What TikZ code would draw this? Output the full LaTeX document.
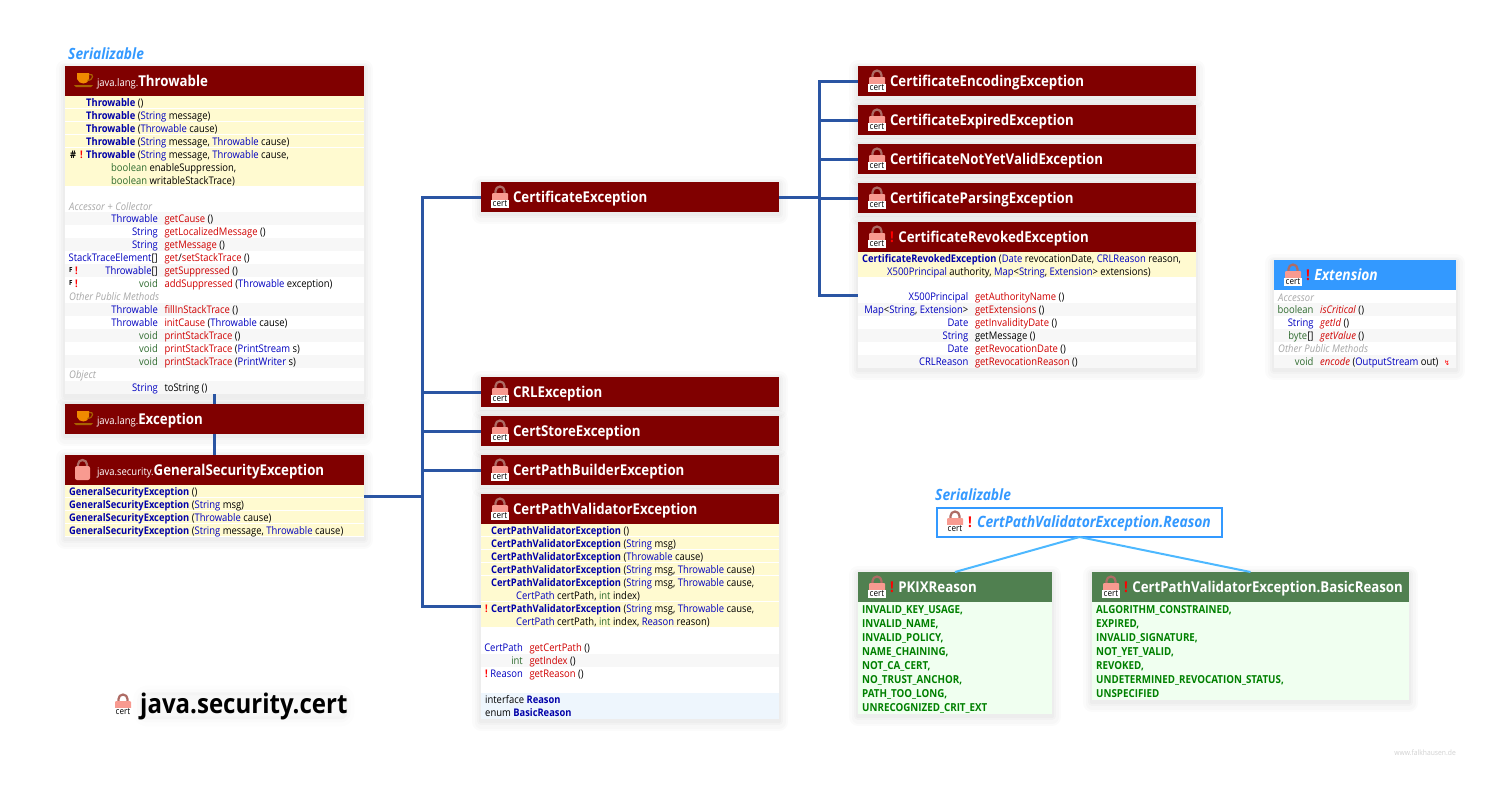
\documentclass[tikz,border=0pt]{standalone}
\usepackage{fontspec}
\setmainfont{Open Sans}[FakeStretch=0.90,BoldFeatures={FakeStretch=0.89},BoldItalicFeatures={FakeStretch=0.89}]
\newfontfamily\symfont{DejaVu Sans}
\usetikzlibrary{positioning}
\definecolor{darkred}{HTML}{800000}
\definecolor{leafgreen}{HTML}{508050}
\definecolor{enumbg}{HTML}{F0FFF0}
\definecolor{ifaceblue}{HTML}{3399FF}
\definecolor{skyblue}{HTML}{4DB8FF}
\definecolor{busblue}{HTML}{2A55A3}
\definecolor{yellowband}{HTML}{FFFAD0}
\definecolor{greyband}{HTML}{F7F7F7}
\definecolor{nestband}{HTML}{EEF6FD}
\definecolor{typeblue}{HTML}{0000C0}
\definecolor{consblue}{HTML}{0000A8}
\definecolor{methred}{HTML}{D00000}
\definecolor{kwgreen}{HTML}{2F6B2F}
\definecolor{enumgreen}{HTML}{008000}
\definecolor{noteGrey}{HTML}{A8A8A8}
\definecolor{lockpink}{HTML}{F89A90}
\definecolor{cuporange}{HTML}{F08A00}
\newcommand{\typ}[1]{\textcolor{typeblue}{#1}}
\newcommand{\kwd}[1]{\textcolor{kwgreen}{#1}}
\newcommand{\mth}[1]{\textcolor{methred}{#1}}
\newcommand{\cons}[1]{\textcolor{consblue}{\textbf{#1}}}
\newcommand{\warn}{\textcolor{red}{\textbf{!}}}
\newcommand{\pkg}[1]{{\fontsize{10.5}{13}\selectfont #1}}
\tikzset{
  softshadow/.style={
    preaction={draw=black,draw opacity=.014,line width=18pt,line join=round,transform canvas={yshift=-3pt}},
    preaction={draw=black,draw opacity=.016,line width=13pt,line join=round,transform canvas={yshift=-3pt}},
    preaction={draw=black,draw opacity=.02,line width=8pt,line join=round,transform canvas={yshift=-2pt}},
    preaction={draw=black,draw opacity=.02,line width=4pt,line join=round,transform canvas={yshift=-2pt}}},
  titleglow/.style={
    rounded corners=7pt,
    preaction={draw=black,fill=black,draw opacity=.008,fill opacity=.012,line width=14pt,line join=round},
    preaction={draw=black,fill=black,draw opacity=.01,fill opacity=.012,line width=6pt,line join=round}},
  classbox/.style={softshadow,anchor=north west,fill=white,inner sep=0pt,outer sep=0pt},
  headbox/.style={anchor=north west,inner xsep=0pt,inner ysep=0pt,outer sep=0pt,minimum height=30pt,
    align=left,text=white,text height=11pt,text depth=1pt,font=\fontsize{14.9}{17}\selectfont},
  darkhead/.style={headbox,fill=darkred},
  greenhead/.style={headbox,fill=leafgreen},
  bluehead/.style={headbox,fill=ifaceblue},
  rowtext/.style={anchor=base west,inner sep=0pt,font=\fontsize{10.5}{13}\selectfont},
  rowright/.style={rowtext,anchor=base east},
  bus/.style={draw=busblue,line width=3pt},
  skyline/.style={draw=skyblue,line width=2pt},
  lockicon/.pic={
    \draw[line width=2.2pt,lockpink!70!black] (4,8) -- (4,4.5) arc[start angle=180,end angle=0,radius=4.5pt] -- (13,8);
    \fill[lockpink,rounded corners=2pt] (1,6) rectangle (16,20);},
  certlock/.pic={
    \draw[line width=2.2pt,lockpink!70!black] (4.5,7) -- (4.5,4) arc[start angle=180,end angle=0,radius=4.5pt] -- (13.5,7);
    \fill[lockpink,rounded corners=1pt] (1,6) rectangle (17,16);
    \node (certlabel) [fill=white,inner sep=0pt,minimum width=18pt,minimum height=7.5pt,font=\fontsize{9}{8}\selectfont] at (9,17) {cert};},
  cupicon/.pic={
    \fill[cuporange] (3,0) -- (15,0) -- (15,6) .. controls (14,12) and (5,12) .. (3,6) -- cycle;
    \draw[cuporange!70!black,line width=1.2pt] (15,1.5) .. controls (20,0) and (20,7) .. (13.5,7.5);
    \fill[cuporange!70!black] (0,12) -- (19,12) -- (17,14) -- (2,14) -- cycle;}
}
\newcounter{rowno}
\newcommand{\txt}[3]{\stepcounter{rowno}\node (row\arabic{rowno}) [rowtext] at (#1,#2+10) {#3};}
\newcommand{\rtxt}[3]{\stepcounter{rowno}\node (row\arabic{rowno}) [rowright] at (#1,#2+10) {#3};}
\newcommand{\member}[4]{\rtxt{#1}{#2}{#3}\txt{#1+6.3}{#2}{#4}}
\newcommand{\gband}[3]{\fill[greyband] (#1,#3) rectangle (#2,#3+13);}
\newcommand{\yband}[4]{\fill[yellowband] (#1,#3) rectangle (#2,#3+#4-1);}
\newcommand{\grouplabel}[3]{\txt{#1}{#2}{\textcolor{noteGrey}{\textit{#3}}}}
\newcommand{\enumrow}[3]{\txt{#1}{#2}{\fontsize{11}{13}\selectfont\textcolor{enumgreen}{\textbf{#3}}}}
\begin{document}
\begin{tikzpicture}[x=1pt,y=-1pt]
\useasboundingbox (0,0) rectangle (1512,798);
% left column
\node (serialthrow) [rowtext,text=ifaceblue,font=\fontsize{15.5}{17}\selectfont\bfseries\itshape] at (68,59) {Serializable};
\node (throwable) [classbox,minimum width=299pt,minimum height=328pt] at (65,66) {};
\node (throwablehead) [darkhead,text width=299pt] at (65,66) {\hspace*{32pt}\pkg{java.lang.}\textbf{Throwable}};
\pic at (74,73) {cupicon};
\foreach \t in {96,109,122,135} {\yband{65}{364}{\t}{13}}
\yband{65}{364}{148}{39}
\foreach \t in {212,238,264,303,329,355,381} {\gband{65}{364}{\t}}
\txt{86}{96}{\cons{Throwable} ()}
\txt{86}{109}{\cons{Throwable} (\typ{String} message)}
\txt{86}{122}{\cons{Throwable} (\typ{Throwable} cause)}
\txt{86}{135}{\cons{Throwable} (\typ{String} message, \typ{Throwable} cause)}
\txt{70}{148}{\textbf{\#}}
\txt{80}{148}{\warn}
\txt{86}{148}{\cons{Throwable} (\typ{String} message, \typ{Throwable} cause,}
\txt{111}{161}{\kwd{boolean} enableSuppression,}
\txt{111}{174}{\kwd{boolean} writableStackTrace)}
\grouplabel{69}{200}{Accessor + Collector}
\member{158}{212}{\typ{Throwable}}{\mth{getCause} ()}
\member{158}{225}{\typ{String}}{\mth{getLocalizedMessage} ()}
\member{158}{238}{\typ{String}}{\mth{getMessage} ()}
\member{158}{251}{\typ{StackTraceElement}[]}{\mth{get}/\mth{setStackTrace} ()}
\txt{69}{262}{\fontsize{7}{8}\selectfont\textbf{F}}
\txt{75}{264}{\warn}
\member{158}{264}{\typ{Throwable}[]}{\mth{getSuppressed} ()}
\txt{69}{275}{\fontsize{7}{8}\selectfont\textbf{F}}
\txt{75}{277}{\warn}
\member{158}{277}{\kwd{void}}{\mth{addSuppressed} (\typ{Throwable} exception)}
\grouplabel{69}{290}{Other Public Methods}
\member{158}{303}{\typ{Throwable}}{\mth{fillInStackTrace} ()}
\member{158}{316}{\typ{Throwable}}{\mth{initCause} (\typ{Throwable} cause)}
\member{158}{329}{\kwd{void}}{\mth{printStackTrace} ()}
\member{158}{342}{\kwd{void}}{\mth{printStackTrace} (\typ{PrintStream} s)}
\member{158}{355}{\kwd{void}}{\mth{printStackTrace} (\typ{PrintWriter} s)}
\grouplabel{69}{368}{Object}
\member{158}{381}{\typ{String}}{toString ()}

\node (exception) [classbox,fill=darkred,minimum width=299pt,minimum height=30pt] at (65,404) {};
\node (exceptionhead) [darkhead,text width=299pt] at (65,404) {\hspace*{32pt}\pkg{java.lang.}\textbf{Exception}};
\pic at (74,411) {cupicon};

\node (gse) [classbox,minimum width=299pt,minimum height=82pt] at (65,455) {};
\node (gsehead) [darkhead,text width=299pt] at (65,455) {\hspace*{32pt}\pkg{java.security.}\textbf{GeneralSecurityException}};
\pic at (74,460) {lockicon};
\foreach \t in {485,498,511,524} {\yband{65}{364}{\t}{13}}
\txt{69}{485}{\cons{GeneralSecurityException} ()}
\txt{69}{498}{\cons{GeneralSecurityException} (\typ{String} msg)}
\txt{69}{511}{\cons{GeneralSecurityException} (\typ{Throwable} cause)}
\txt{69}{524}{\cons{GeneralSecurityException} (\typ{String} message, \typ{Throwable} cause)}

% middle column
\node (certexc) [classbox,fill=darkred,minimum width=298pt,minimum height=30pt] at (481,182) {};
\node (certexchead) [darkhead,text width=298pt] at (481,182) {\hspace*{32pt}\textbf{CertificateException}};
\pic at (491,187) {certlock};
\node (crlexc) [classbox,fill=darkred,minimum width=298pt,minimum height=30pt] at (481,377) {};
\node (crlexchead) [darkhead,text width=298pt] at (481,377) {\hspace*{32pt}\textbf{CRLException}};
\pic at (491,382) {certlock};
\node (storeexc) [classbox,fill=darkred,minimum width=298pt,minimum height=30pt] at (481,416) {};
\node (storeexchead) [darkhead,text width=298pt] at (481,416) {\hspace*{32pt}\textbf{CertStoreException}};
\pic at (491,421) {certlock};
\node (builderexc) [classbox,fill=darkred,minimum width=298pt,minimum height=30pt] at (481,455) {};
\node (builderexchead) [darkhead,text width=298pt] at (481,455) {\hspace*{32pt}\textbf{CertPathBuilderException}};
\pic at (491,460) {certlock};

\node (validator) [classbox,minimum width=298pt,minimum height=225pt] at (481,494) {};
\node (validatorhead) [darkhead,text width=298pt] at (481,494) {\hspace*{32pt}\textbf{CertPathValidatorException}};
\pic at (491,499) {certlock};
\foreach \t in {524,537,550,563} {\yband{481}{779}{\t}{13}}
\yband{481}{779}{576}{26}
\yband{481}{779}{602}{26}
\gband{481}{779}{654}
\fill[nestband] (481,693) rectangle (779,719);
\txt{491}{524}{\cons{CertPathValidatorException} ()}
\txt{491}{537}{\cons{CertPathValidatorException} (\typ{String} msg)}
\txt{491}{550}{\cons{CertPathValidatorException} (\typ{Throwable} cause)}
\txt{491}{563}{\cons{CertPathValidatorException} (\typ{String} msg, \typ{Throwable} cause)}
\txt{491}{576}{\cons{CertPathValidatorException} (\typ{String} msg, \typ{Throwable} cause,}
\txt{516}{589}{\typ{CertPath} certPath, \kwd{int} index)}
\txt{485}{602}{\warn}
\txt{491}{602}{\cons{CertPathValidatorException} (\typ{String} msg, \typ{Throwable} cause,}
\txt{516}{615}{\typ{CertPath} certPath, \kwd{int} index, \typ{Reason} reason)}
\member{523}{641}{\typ{CertPath}}{\mth{getCertPath} ()}
\member{523}{654}{\kwd{int}}{\mth{getIndex} ()}
\txt{485}{667}{\warn}
\member{523}{667}{\typ{Reason}}{\mth{getReason} ()}
\txt{485}{693}{interface \cons{Reason}}
\txt{485}{706}{enum \cons{BasicReason}}

\node (title) [titleglow,anchor=base west,inner sep=0pt,font=\fontsize{27}{30}\selectfont\bfseries] at (140,713) {java.security.cert};
\pic at (114,695) {certlock};

% right column
\node (encoding) [classbox,fill=darkred,minimum width=338pt,minimum height=30pt] at (858,66) {};
\node (encodinghead) [darkhead,text width=338pt] at (858,66) {\hspace*{32pt}\textbf{CertificateEncodingException}};
\pic at (868,71) {certlock};
\node (expired) [classbox,fill=darkred,minimum width=338pt,minimum height=30pt] at (858,105) {};
\node (expiredhead) [darkhead,text width=338pt] at (858,105) {\hspace*{32pt}\textbf{CertificateExpiredException}};
\pic at (868,110) {certlock};
\node (notyet) [classbox,fill=darkred,minimum width=338pt,minimum height=30pt] at (858,144) {};
\node (notyethead) [darkhead,text width=338pt] at (858,144) {\hspace*{32pt}\textbf{CertificateNotYetValidException}};
\pic at (868,149) {certlock};
\node (parsing) [classbox,fill=darkred,minimum width=338pt,minimum height=30pt] at (858,183) {};
\node (parsinghead) [darkhead,text width=338pt] at (858,183) {\hspace*{32pt}\textbf{CertificateParsingException}};
\pic at (868,188) {certlock};

\node (revoked) [classbox,minimum width=338pt,minimum height=146pt] at (858,222) {};
\node (revokedhead) [darkhead,text width=338pt] at (858,222) {\hspace*{32pt}\textbf{\textcolor{red}{!}}\hspace*{4.5pt}\textbf{CertificateRevokedException}};
\pic at (868,227) {certlock};
\yband{858}{1196}{252}{26}
\foreach \t in {303,329,355} {\gband{858}{1196}{\t}}
\txt{862}{252}{\cons{CertificateRevokedException} (\typ{Date} revocationDate, \typ{CRLReason} reason,}
\txt{887}{265}{\typ{X500Principal} authority, \typ{Map}<\typ{String}, \typ{Extension}> extensions)}
\member{968.5}{290}{\typ{X500Principal}}{\mth{getAuthorityName} ()}
\member{968.5}{303}{\typ{Map}<\typ{String}, \typ{Extension}>}{\mth{getExtensions} ()}
\member{968.5}{316}{\typ{Date}}{\mth{getInvalidityDate} ()}
\member{968.5}{329}{\typ{String}}{getMessage ()}
\member{968.5}{342}{\typ{Date}}{\mth{getRevocationDate} ()}
\member{968.5}{355}{\typ{CRLReason}}{\mth{getRevocationReason} ()}

\node (extension) [classbox,minimum width=182pt,minimum height=108pt] at (1274,260) {};
\node (extensionhead) [bluehead,text width=182pt] at (1274,260) {\hspace*{32pt}\textbf{\textcolor{red}{!}}\hspace*{4.5pt}\fontsize{15.5}{17}\selectfont\textbf{\textit{Extension}}};
\pic at (1284,265) {certlock};
\foreach \t in {303,329,355} {\gband{1274}{1456}{\t}}
\grouplabel{1278}{291}{Accessor}
\member{1313.7}{303}{\kwd{boolean}}{\mth{\textit{isCritical}} ()}
\member{1313.7}{316}{\typ{String}}{\mth{\textit{getId}} ()}
\member{1313.7}{329}{\kwd{byte}[]}{\mth{\textit{getValue}} ()}
\grouplabel{1278}{342}{Other Public Methods}
\member{1313.7}{355}{\kwd{void}}{\mth{\textit{encode}} (\typ{OutputStream} out)}
\txt{1444}{355}{\textcolor{red}{\symfont\fontsize{7}{8}\selectfont ↯}}

% nested reason types
\node (serialreason) [rowtext,text=ifaceblue,font=\fontsize{15.5}{17}\selectfont\bfseries\itshape] at (935,500) {Serializable};
\node (reason) [anchor=north west,draw=ifaceblue,line width=2pt,fill=white,inner sep=0pt,outer sep=0pt,minimum width=285pt,minimum height=29pt,align=left,text width=285pt,text height=11pt,text depth=1pt,font=\fontsize{15.6}{17}\selectfont] at (937,508) {\hspace*{40pt}\textcolor{ifaceblue}{\textbf{\textit{CertPathValidatorException.Reason}}}};
\pic at (946,512) {certlock};
\node (reasonmark) [rowtext,font=\fontsize{14.9}{17}\selectfont] at (968,527) {\warn};

\node (pkix) [classbox,fill=enumbg,minimum width=194pt,minimum height=142pt] at (858,572) {};
\node (pkixhead) [greenhead,text width=194pt] at (858,572) {\hspace*{32pt}\textbf{\textcolor{red}{!}}\hspace*{4.5pt}\textbf{PKIXReason}};
\pic at (868,577) {certlock};
\enumrow{862}{603}{INVALID\_KEY\_USAGE,}
\enumrow{862}{617}{INVALID\_NAME,}
\enumrow{862}{631}{INVALID\_POLICY,}
\enumrow{862}{645}{NAME\_CHAINING,}
\enumrow{862}{659}{NOT\_CA\_CERT,}
\enumrow{862}{673}{NO\_TRUST\_ANCHOR,}
\enumrow{862}{687}{PATH\_TOO\_LONG,}
\enumrow{862}{701}{UNRECOGNIZED\_CRIT\_EXT}

\node (basic) [classbox,fill=enumbg,minimum width=317pt,minimum height=128pt] at (1092,572) {};
\node (basichead) [greenhead,text width=317pt] at (1092,572) {\hspace*{32pt}\textbf{\textcolor{red}{!}}\hspace*{4.5pt}\textbf{CertPathValidatorException.BasicReason}};
\pic at (1102,577) {certlock};
\enumrow{1096}{603}{ALGORITHM\_CONSTRAINED,}
\enumrow{1096}{617}{EXPIRED,}
\enumrow{1096}{631}{INVALID\_SIGNATURE,}
\enumrow{1096}{645}{NOT\_YET\_VALID,}
\enumrow{1096}{659}{REVOKED,}
\enumrow{1096}{673}{UNDETERMINED\_REVOCATION\_STATUS,}
\enumrow{1096}{687}{UNSPECIFIED}

\node (footer) [anchor=base east,inner sep=0pt,text=black!18,font=\fontsize{7.5}{9}\selectfont] at (1456,755) {www.falkhausen.de};

% connectors
\coordinate (busleft) at (422,496);
\coordinate (busright) at (819,197);
\draw [bus] (throwable.south) -- (exception.north);
\draw [bus] (exception.south) -- (gse.north);
\draw [bus] (gse.east) -- (busleft);
\draw [bus] (busleft) |- (certexc.west);
\draw [bus] (busleft) |- (crlexc.west);
\draw [bus] (busleft) |- (storeexc.west);
\draw [bus] (busleft) |- (builderexc.west);
\draw [bus] (busleft) |- (validator.west);
\draw [bus] (certexc.east) -- (busright);
\draw [bus] (busright) |- (encoding.west);
\draw [bus] (busright) |- (expired.west);
\draw [bus] (busright) |- (notyet.west);
\draw [bus] (busright) |- (parsing.west);
\draw [bus] (busright) |- (revoked.west);
\draw [skyline] (reason.south) -- (pkix.north);
\draw [skyline] (reason.south) -- (basic.north);
\end{tikzpicture}
\end{document}
